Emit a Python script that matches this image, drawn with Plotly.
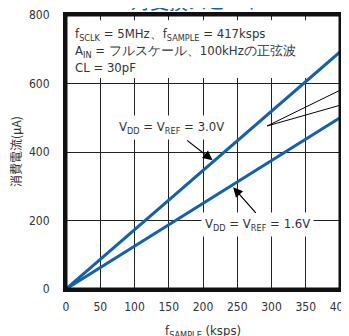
import plotly.graph_objects as go

# Data
sample_rate_ksps = [0, 400]
current_vdd30_uA = [0, 692]
current_vdd16_uA = [0, 500]

x_ticks = [0, 50, 100, 150, 200, 250, 300, 350, 400]
y_ticks = [0, 200, 400, 600, 800]

BLUE = "#1560a8"
TXT = "#333333"
FONT = "DejaVu Sans Condensed, Liberation Sans Narrow, Arial Narrow, sans-serif"

fig = go.Figure()
fig.add_trace(go.Scatter(x=sample_rate_ksps, y=current_vdd30_uA, mode="lines",
                         line=dict(color=BLUE, width=3), showlegend=False,
                         cliponaxis=False))
fig.add_trace(go.Scatter(x=sample_rate_ksps, y=current_vdd16_uA, mode="lines",
                         line=dict(color=BLUE, width=3), showlegend=False,
                         cliponaxis=False))

# white area behind the condition text (interrupts grid)
fig.add_shape(type="rect", xref="x", yref="y", x0=1, x1=399, y0=616, y1=785,
              fillcolor="white", line=dict(width=0), layer="between")
# frame
fig.add_shape(type="rect", xref="paper", yref="paper", x0=0, x1=1, y0=0, y1=1,
              line=dict(color="#111111", width=3), layer="above")

ann = []
cond = ("f<sub>SCLK</sub> = 5MHz、f<sub>SAMPLE</sub> = 417ksps<br>"
        "A<sub>IN</sub> = フルスケール、100kHzの正弦波<br>"
        "CL = 30pF")
ann.append(dict(x=0.025, y=0.968, xref="paper", yref="paper", xanchor="left", yanchor="top",
                text=cond, showarrow=False, align="left",
                font=dict(family=FONT, size=13, color=TXT)))
ann.append(dict(x=154, y=473, xref="x", yref="y",
                text="V<sub>DD</sub> = V<sub>REF</sub> = 3.0V", showarrow=False,
                bgcolor="white", borderpad=3,
                font=dict(family=FONT, size=13, color=TXT)))
ann.append(dict(x=280, y=187, xref="x", yref="y",
                text="V<sub>DD</sub> = V<sub>REF</sub> = 1.6V", showarrow=False,
                bgcolor="white", borderpad=3,
                font=dict(family=FONT, size=13, color=TXT)))
# arrows
ann.append(dict(x=214, y=376, xref="x", yref="y", text="", showarrow=True,
                ax=-27, ay=-21, arrowhead=2, arrowsize=1.6, arrowwidth=1.2,
                arrowcolor="black"))
ann.append(dict(x=244, y=297, xref="x", yref="y", text="", showarrow=True,
                ax=24, ay=27, arrowhead=2, arrowsize=1.6, arrowwidth=1.2,
                arrowcolor="black"))
# title (cropped at top)
ann.append(dict(x=0.48, y=1.0, xref="paper", yref="paper", xanchor="center", yanchor="bottom",
                text="対変換スピード", showarrow=False, yshift=-1,
                font=dict(family="Noto Sans CJK JP", size=19, color=BLUE)))
# axis titles
ann.append(dict(x=-0.186, y=0.5, xref="paper", yref="paper", xanchor="center", yanchor="middle",
                text="消費電流(μA)", textangle=-90, showarrow=False,
                font=dict(family="Noto Sans CJK JP", size=12, color=TXT)))
ann.append(dict(x=0.5, y=-0.154, xref="paper", yref="paper", xanchor="center", yanchor="middle",
                text="f<sub>SAMPLE</sub> (ksps)", showarrow=False,
                font=dict(family=FONT, size=13, color=TXT)))

# leader lines from the right (to cropped labels)
fig.add_shape(type="line", xref="paper", yref="paper", x0=1.04, y0=0.745, x1=0.734, y1=0.595,
              line=dict(color="black", width=1))
fig.add_shape(type="line", xref="paper", yref="paper", x0=1.04, y0=0.682, x1=0.734, y1=0.595,
              line=dict(color="black", width=1))

fig.update_layout(
    width=341, height=328,
    margin=dict(l=58, r=9, t=7, b=47, autoexpand=False),
    paper_bgcolor="white", plot_bgcolor="white",
    annotations=ann,
    font=dict(family=FONT, size=13, color=TXT),
)
fig.update_xaxes(range=[0, 400], tickvals=x_ticks, ticktext=[str(v) for v in x_ticks],
                 showgrid=True, gridcolor="#222222", gridwidth=1, automargin=False,
                 showline=True, linecolor="#111111", linewidth=3, mirror=True,
                 zeroline=False, ticks="", ticklabelstandoff=5,
                 ticklabeloverflow="allow",
                 tickfont=dict(family=FONT, size=12, color=TXT))
fig.update_yaxes(range=[0, 800], tickvals=y_ticks, ticktext=[str(v) for v in y_ticks],
                 showgrid=True, gridcolor="#222222", gridwidth=1, automargin=False,
                 showline=True, linecolor="#111111", linewidth=3, mirror=True,
                 zeroline=False, ticks="", ticklabelstandoff=11,
                 ticklabeloverflow="allow",
                 tickfont=dict(family=FONT, size=12, color=TXT))

fig.write_html("out.html")
